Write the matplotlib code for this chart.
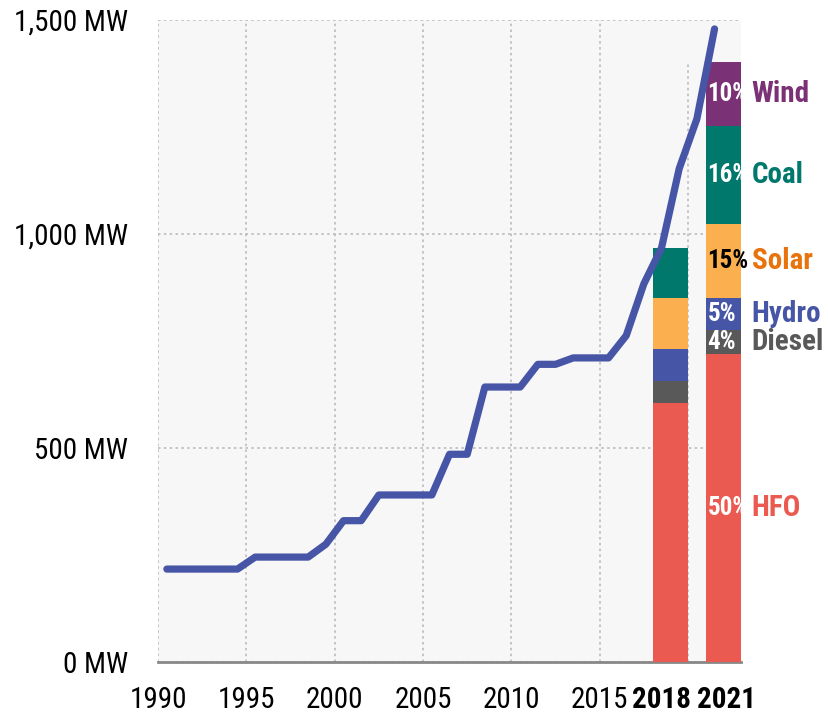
import numpy as np
import matplotlib
matplotlib.use("Agg")
import matplotlib.pyplot as plt
from matplotlib import font_manager

# pick a narrow sans (the original looks like Arial Narrow)
installed = {f.name for f in font_manager.fontManager.ttflist}
narrow = None
for name in ['Liberation Sans Narrow', 'Arial Narrow', 'Roboto Condensed',
             'Archivo Narrow', 'PT Sans Narrow', 'Pragati Narrow']:
    if name in installed:
        narrow = name
        break
if narrow:
    plt.rcParams['font.family'] = [narrow, 'Liberation Sans', 'DejaVu Sans']
    fs = 21
else:
    plt.rcParams['font.family'] = ['Liberation Sans', 'DejaVu Sans']
    fs = 18

# installed capacity, MW (line)
years = np.arange(1990, 2022)
capacity = [217, 217, 217, 217, 217, 245, 245, 245, 245, 275,
            330, 330, 390, 390, 390, 390, 485, 485, 642, 642,
            642, 695, 695, 710, 710, 710, 762, 883, 967, 1152,
            1268, 1478]

# generation mix bars
sources = ['HFO', 'Diesel', 'Hydro', 'Solar', 'Coal', 'Wind']
mix_2018 = [604, 51, 75, 121, 116, 0]
mix_2021 = [720, 56, 75, 172, 229, 149]
pct_2021 = ['50%', '4%', '5%', '15%', '16%', '10%']
colors = ['#EB5A50', '#595959', '#4655A5', '#FBAF4F', '#00786C', '#7B3175']
label_colors = ['#EB5A50', '#595959', '#4655A5', '#E8720C', '#00786C', '#7B3175']
pct_colors = ['white', 'white', 'white', 'black', 'white', 'white']

fig = plt.figure(figsize=(8.29, 7.15), dpi=100)
ax = fig.add_axes([0.1906, 0.0741, 0.7033, 0.8986])
ax.set_facecolor('#F7F7F7')

# line, points sit in the middle of each year
ax.plot(years + 0.5, capacity, color='#4655A5', lw=5.2, solid_capstyle='round',
        solid_joinstyle='round', zorder=4)

# stacked bars
bottom18 = 0
bottom21 = 0
for i, s in enumerate(sources):
    if mix_2018[i] > 0:
        ax.bar(2018, mix_2018[i], width=2, bottom=bottom18, align='edge',
               color=colors[i], zorder=3)
    ax.bar(2021, mix_2021[i], width=2, bottom=bottom21, align='edge',
           color=colors[i], zorder=3)
    mid = bottom21 + mix_2021[i] / 2
    ax.text(2021.1, mid, pct_2021[i], color=pct_colors[i], fontsize=fs - 3,
            fontweight='bold', ha='left', va='center', zorder=5)
    ax.text(2023.6, mid, s, color=label_colors[i], fontsize=fs,
            fontweight='bold', ha='left', va='center', zorder=5)
    bottom18 += mix_2018[i]
    bottom21 += mix_2021[i]

ax.set_xlim(1990, 2023)
ax.set_ylim(0, 1500)

ax.set_yticks([0, 500, 1000, 1500])
ax.set_yticklabels(['0 MW', '500 MW', '1,000 MW', '1,500 MW'], fontsize=fs)

ax.set_xticks([1990, 1995, 2000, 2005, 2010, 2015])
ax.set_xticklabels(['1990', '1995', '2000', '2005', '2010', '2015'], fontsize=fs)
ax.set_xticks([2018.5, 2022.2], minor=True)
ax.set_xticklabels(['2018', '2021'], minor=True, fontsize=fs, fontweight='bold')

ax.tick_params(axis='both', which='both', length=0)
ax.tick_params(axis='y', pad=21.5)
ax.tick_params(axis='x', which='both', pad=17)

grid_style = dict(color='#BBBBBB', linestyle=(0, (1.5, 2)), lw=1.2, zorder=1)
ax.grid(True, which='major', **grid_style)
ax.axvline(2020, ymax=1400 / 1500, **grid_style)
ax.set_axisbelow(True)

for sp in ['left', 'right', 'top']:
    ax.spines[sp].set_visible(False)
ax.spines['bottom'].set_color('#888888')
ax.spines['bottom'].set_linewidth(2)

fig.savefig('out.png', dpi=100)
